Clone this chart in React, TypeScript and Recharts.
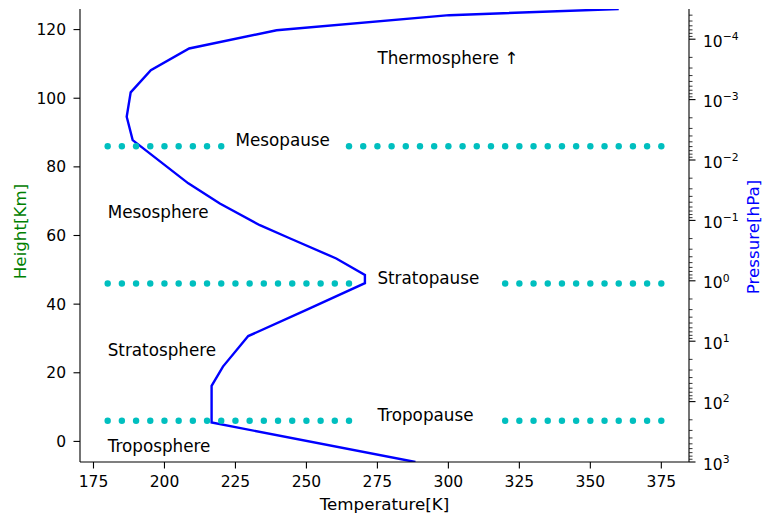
import React from 'react';
import { ComposedChart, Line, Scatter, XAxis, YAxis } from 'recharts';

// Temperature profile (Temperature [K], Height [km])
const profileT = [288.4, 216.6, 216.6, 220.6, 229.5, 250.0, 270.6, 270.6, 260.5, 244.1, 233.6, 219.5, 208.4, 188.8, 186.7, 188.1, 195.2, 208.7, 239.5, 300.3, 360.0];
const profileH = [-6, 5.5, 16.2, 21.8, 30.7, 38.3, 46.1, 48.5, 53.3, 59.2, 63.0, 69.3, 75.2, 87.8, 94.6, 101.7, 108.2, 114.5, 119.8, 124.2, 126];

// Dotted "pause" markers
const mesopauseH = 86;
const mesopauseT = [180, 185, 190, 195, 200, 205, 210, 215, 220, 265, 270, 275, 280, 285, 290, 295, 300, 305, 310, 315, 320, 325, 330, 335, 340, 345, 350, 355, 360, 365, 370, 375];
const stratopauseH = 46;
const stratopauseT = [180, 185, 190, 195, 200, 205, 210, 215, 220, 225, 230, 235, 240, 245, 250, 255, 260, 265, 320, 325, 330, 335, 340, 345, 350, 355, 360, 365, 370, 375];
const tropopauseH = 6;
const tropopauseT = [180, 185, 190, 195, 200, 205, 210, 215, 220, 225, 230, 235, 240, 245, 250, 255, 260, 265, 320, 325, 330, 335, 340, 345, 350, 355, 360, 365, 370, 375];

// Layer labels
const labelTexts = ['Thermosphere \u2191', 'Mesopause', 'Mesosphere', 'Stratopause', 'Stratosphere', 'Tropopause', 'Troposphere'];
const labelT = [275, 225, 180, 275, 180, 275, 180];
const labelH = [110, 86, 65, 46, 25, 6, -3];

// Axes
const xDomain = [170.25, 384.75];
const xTicks = [175, 200, 225, 250, 275, 300, 325, 350, 375];
const hDomain = [-6, 126];
const hTicks = [0, 20, 40, 60, 80, 100, 120];
const pressureExponents = [3, 2, 1, 0, -1, -2, -3, -4];
const minorMultipliers = [2, 3, 4, 5, 6, 7, 8, 9];
const pDomain = [-3, 4.5]; // -log10(P)

const profile = profileT.map((T, i) => ({ T, h: profileH[i] }));
const mesoDots = mesopauseT.map((T) => ({ T, h: mesopauseH }));
const stratoDots = stratopauseT.map((T) => ({ T, h: stratopauseH }));
const tropoDots = tropopauseT.map((T) => ({ T, h: tropopauseH }));
const labels = labelTexts.map((text, i) => ({ T: labelT[i], h: labelH[i], text }));

const majorP = pressureExponents.map((e) => -e);
const minorP: number[] = [];
[2, 1, 0, -1, -2, -3, -4, -5].forEach((e) => {
  minorMultipliers.forEach((k) => {
    const v = -(Math.log10(k) + e);
    if (v >= pDomain[0] && v <= pDomain[1]) minorP.push(v);
  });
});
const pTicks = [...majorP, ...minorP].sort((a, b) => a - b);

const FONT = 'DejaVu Sans';
const TICK_FS = 15.5;

const LeftTick = (props: any) => {
  const { x, y, payload } = props;
  return (
    <g>
      <line x1={x - 6.5} x2={x} y1={y} y2={y} stroke="#000" strokeWidth={1.1} />
      <text x={x - 14} y={y + 5.5} textAnchor="end" fontSize={TICK_FS} fontFamily={FONT} fill="#000">
        {payload.value}
      </text>
    </g>
  );
};

const BottomTick = (props: any) => {
  const { x, y, payload } = props;
  return (
    <g>
      <line x1={x} x2={x} y1={y} y2={y + 6.5} stroke="#000" strokeWidth={1.1} />
      <text x={x} y={y + 25} textAnchor="middle" fontSize={TICK_FS} fontFamily={FONT} fill="#000">
        {payload.value}
      </text>
    </g>
  );
};

const RightTick = (props: any) => {
  const { x, y, payload } = props;
  const v = payload.value;
  const isMajor = Math.abs(v - Math.round(v)) < 1e-9;
  if (!isMajor) {
    return <line x1={x} x2={x + 3.5} y1={y} y2={y} stroke="#000" strokeWidth={0.8} />;
  }
  const e = -Math.round(v);
  const expText = e < 0 ? '\u2212' + Math.abs(e) : String(e);
  return (
    <g>
      <line x1={x} x2={x + 6.5} y1={y} y2={y} stroke="#000" strokeWidth={1.1} />
      <text x={x + 14} y={y + 7.5} fontSize={TICK_FS} fontFamily={FONT} fill="#000">
        <tspan>10</tspan>
        <tspan dy={-6.7} fontSize={10.8}>{expText}</tspan>
      </text>
    </g>
  );
};

const DotShape = (props: any) => {
  const { cx, cy } = props;
  return <circle cx={cx} cy={cy} r={3.2} fill="#00BFBF" />;
};

const LabelShape = (props: any) => {
  const { cx, cy, payload } = props;
  return (
    <text x={cx} y={cy} fontSize={16.8} fontFamily={FONT} fill="#000">
      {payload.text}
    </text>
  );
};

const XLabel = () => (
  <text x={384.5} y={510} textAnchor="middle" fontSize={16.7} fontFamily={FONT} fill="#000">
    Temperature[K]
  </text>
);

const HLabel = () => (
  <text
    x={20}
    y={231.5}
    textAnchor="middle"
    dominantBaseline="central"
    transform="rotate(-90, 20, 231.5)"
    fontSize={16.7}
    fontFamily={FONT}
    fill="#008000"
  >
    Height[Km]
  </text>
);

const PLabel = () => (
  <text
    x={753}
    y={237}
    textAnchor="middle"
    dominantBaseline="central"
    transform="rotate(-90, 753, 237)"
    fontSize={16.7}
    fontFamily={FONT}
    fill="#0000FF"
  >
    Pressure[hPa]
  </text>
);

export default function App() {
  return (
    <div style={{ position: 'absolute', left: 0, top: 0, width: 762, height: 515, background: '#fff', overflow: 'hidden' }}>
      <ComposedChart width={762} height={515} margin={{ top: 9, right: 0, bottom: 0, left: 0 }}>
        <XAxis
          xAxisId="top"
          orientation="top"
          type="number"
          domain={xDomain}
          allowDataOverflow
          height={0}
          tick={false}
          tickLine={false}
          axisLine={{ stroke: '#000', strokeWidth: 1.1 }}
        />
        <XAxis
          dataKey="T"
          type="number"
          domain={xDomain}
          allowDataOverflow
          ticks={xTicks}
          interval={0}
          height={53}
          tickSize={0}
          tickMargin={0}
          tickLine={false}
          tick={<BottomTick />}
          axisLine={{ stroke: '#000', strokeWidth: 1.1 }}
          label={<XLabel />}
        />
        <YAxis
          yAxisId="h"
          dataKey="h"
          type="number"
          domain={hDomain}
          allowDataOverflow
          ticks={hTicks}
          interval={0}
          width={80}
          tickSize={0}
          tickMargin={0}
          tickLine={false}
          tick={<LeftTick />}
          axisLine={{ stroke: '#000', strokeWidth: 1.1 }}
          label={<HLabel />}
        />
        <YAxis
          yAxisId="p"
          orientation="right"
          type="number"
          domain={pDomain}
          allowDataOverflow
          ticks={pTicks}
          interval={0}
          width={73}
          tickSize={0}
          tickMargin={0}
          tickLine={false}
          tick={<RightTick />}
          axisLine={{ stroke: '#000', strokeWidth: 1.1 }}
          label={<PLabel />}
        />
        <Scatter yAxisId="h" data={mesoDots} dataKey="h" shape={<DotShape />} isAnimationActive={false} />
        <Scatter yAxisId="h" data={stratoDots} dataKey="h" shape={<DotShape />} isAnimationActive={false} />
        <Scatter yAxisId="h" data={tropoDots} dataKey="h" shape={<DotShape />} isAnimationActive={false} />
        <Line
          yAxisId="h"
          data={profile}
          dataKey="h"
          stroke="#0000FF"
          strokeWidth={2.4}
          dot={false}
          activeDot={false}
          isAnimationActive={false}
        />
        <Scatter yAxisId="h" data={labels} dataKey="h" shape={<LabelShape />} isAnimationActive={false} />
      </ComposedChart>
    </div>
  );
}
